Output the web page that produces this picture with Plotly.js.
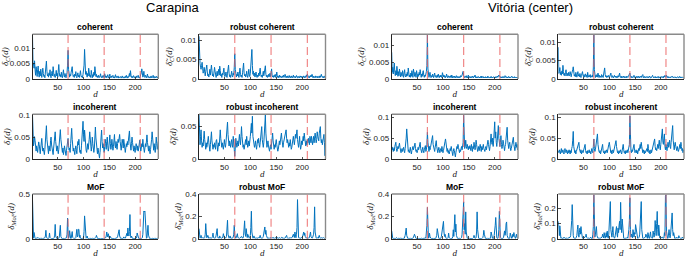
<!DOCTYPE html>
<html><head><meta charset="utf-8">
<script src="https://cdn.plot.ly/plotly-3.0.1.min.js"></script>
<style>html,body{margin:0;padding:0;background:#fff}#chart{width:685px;height:258px}</style>
</head><body><div id="chart"></div>
<script>
// d = 1..245 (x0 = 1, dx = 1)
const markerDays = [70, 140, 210];
const xTickVals = [50, 100, 150, 200];
const siteTitles = ['Carapina', 'Vitória (center)'];

const carapinaCoherent = [
.0140,.0045,.0052,.0035,.0059,.0030,.0012,.0040,.0022,.0008,
.0030,.0042,.0015,.0006,.0025,.0010,.0032,.0012,.0005,.0020,
.0035,.0018,.0008,.0012,.0004,.0022,.0040,.0058,.0025,.0010,
.0015,.0006,.0020,.0012,.0030,.0008,.0004,.0018,.0025,.0010,
.0040,.0022,.0008,.0015,.0005,.0012,.0028,.0010,.0018,.0006,
.0030,.0047,.0020,.0009,.0014,.0006,.0022,.0010,.0004,.0016,
.0030,.0012,.0006,.0018,.0009,.0004,.0014,.0020,.0045,.0093,
.0030,.0012,.0006,.0015,.0010,.0022,.0035,.0040,.0018,.0008,
.0012,.0005,.0016,.0010,.0024,.0008,.0004,.0013,.0020,.0007,
.0012,.0005,.0018,.0027,.0012,.0006,.0010,.0004,.0015,.0030,
.0045,.0096,.0040,.0015,.0025,.0012,.0006,.0018,.0010,.0035,
.0020,.0008,.0012,.0005,.0028,.0010,.0004,.0014,.0008,.0022,
.0012,.0040,.0025,.0008,.0015,.0006,.0010,.0004,.0012,.0007,
.0005,.0010,.0017,.0006,.0004,.0009,.0005,.0012,.0007,.0004,
.0017,.0008,.0005,.0010,.0004,.0008,.0014,.0006,.0003,.0009,
.0016,.0006,.0004,.0010,.0005,.0008,.0012,.0004,.0007,.0003,
.0009,.0014,.0005,.0008,.0004,.0006,.0010,.0003,.0007,.0005,
.0004,.0008,.0006,.0003,.0010,.0005,.0004,.0007,.0003,.0006,
.0009,.0004,.0012,.0006,.0003,.0008,.0005,.0010,.0018,.0008,
.0027,.0012,.0005,.0009,.0004,.0007,.0011,.0005,.0003,.0008,
.0006,.0004,.0010,.0005,.0007,.0012,.0004,.0006,.0003,.0008,
.0012,.0020,.0033,.0014,.0006,.0010,.0025,.0008,.0005,.0012,
.0007,.0004,.0010,.0016,.0005,.0008,.0004,.0007,.0003,.0006,
.0010,.0004,.0007,.0005,.0012,.0004,.0003,.0008,.0005,.0004,
.0009,.0005,.0003,.0007,.0004];

const carapinaRobustCoherent = [
.0110,.0045,.0040,.0030,.0025,.0035,.0043,.0028,.0015,.0020,
.0030,.0012,.0008,.0020,.0028,.0036,.0018,.0008,.0012,.0005,
.0015,.0025,.0010,.0020,.0036,.0022,.0008,.0012,.0006,.0018,
.0030,.0020,.0008,.0004,.0012,.0020,.0008,.0015,.0025,.0010,
.0033,.0022,.0008,.0012,.0004,.0015,.0010,.0018,.0028,.0012,
.0006,.0010,.0018,.0008,.0004,.0015,.0025,.0036,.0015,.0006,
.0010,.0004,.0012,.0020,.0008,.0005,.0015,.0010,.0030,.0065,
.0025,.0010,.0005,.0012,.0008,.0018,.0010,.0004,.0015,.0028,
.0012,.0006,.0010,.0004,.0016,.0025,.0041,.0015,.0008,.0012,
.0005,.0010,.0020,.0008,.0004,.0012,.0025,.0010,.0006,.0015,
.0030,.0045,.0076,.0035,.0012,.0020,.0008,.0015,.0005,.0012,
.0018,.0008,.0004,.0010,.0006,.0015,.0008,.0020,.0028,.0012,
.0006,.0010,.0004,.0012,.0020,.0008,.0015,.0025,.0034,.0012,
.0006,.0010,.0004,.0008,.0012,.0005,.0010,.0015,.0006,.0020,
.0026,.0010,.0005,.0008,.0004,.0010,.0006,.0012,.0004,.0008,
.0018,.0008,.0004,.0007,.0003,.0010,.0005,.0008,.0004,.0006,
.0003,.0008,.0005,.0010,.0004,.0006,.0012,.0005,.0003,.0007,
.0004,.0008,.0003,.0006,.0009,.0004,.0006,.0003,.0008,.0004,
.0006,.0003,.0010,.0005,.0004,.0007,.0003,.0006,.0009,.0004,
.0003,.0007,.0004,.0006,.0003,.0008,.0005,.0004,.0007,.0003,
.0006,.0004,.0008,.0005,.0003,.0007,.0004,.0010,.0006,.0013,
.0008,.0004,.0006,.0003,.0008,.0005,.0010,.0006,.0012,.0005,
.0003,.0007,.0004,.0006,.0003,.0008,.0005,.0004,.0007,.0003,
.0006,.0004,.0008,.0003,.0005,.0009,.0012,.0006,.0004,.0007,
.0003,.0006,.0004,.0008,.0003];

const carapinaIncoherent = [
.100,.045,.030,.038,.051,.042,.025,.018,.030,.022,
.015,.028,.039,.033,.020,.012,.025,.035,.047,.030,
.018,.025,.015,.010,.022,.040,.060,.076,.045,.028,
.020,.012,.030,.025,.018,.042,.050,.032,.020,.015,
.010,.025,.035,.048,.062,.040,.025,.018,.030,.020,
.012,.022,.035,.050,.067,.045,.030,.020,.015,.025,
.010,.018,.030,.022,.012,.008,.020,.032,.040,.047,
.030,.020,.025,.015,.035,.050,.070,.045,.028,.018,
.025,.015,.010,.022,.030,.020,.012,.028,.040,.032,
.045,.025,.015,.020,.012,.030,.045,.060,.086,.055,
.040,.066,.042,.028,.020,.015,.025,.035,.022,.030,
.045,.062,.040,.025,.018,.028,.050,.035,.022,.015,
.025,.040,.073,.048,.030,.020,.012,.025,.018,.008,
.002,.015,.030,.045,.066,.040,.025,.035,.020,.015,
.028,.045,.035,.022,.040,.050,.030,.018,.025,.040,
.055,.035,.022,.030,.045,.032,.020,.028,.040,.056,
.032,.025,.040,.030,.022,.035,.045,.038,.050,.056,
.040,.028,.020,.032,.045,.036,.025,.045,.030,.020,
.015,.025,.035,.028,.040,.032,.045,.055,.064,.040,
.028,.020,.035,.050,.038,.025,.018,.030,.022,.015,
.025,.035,.028,.020,.030,.018,.025,.035,.043,.028,
.018,.025,.035,.028,.045,.032,.022,.015,.025,.035,
.028,.040,.055,.038,.025,.018,.030,.020,.012,.022,
.030,.045,.062,.042,.028,.020,.035,.025,.015,.030,
.050,.035,.022,.030,.040];

const carapinaRobustIncoherent = [
.068,.030,.022,.035,.045,.028,.018,.025,.020,.032,
.043,.030,.020,.015,.025,.018,.022,.030,.035,.025,
.018,.012,.022,.030,.042,.028,.020,.015,.022,.018,
.025,.020,.015,.028,.030,.022,.012,.018,.025,.020,
.030,.045,.032,.022,.018,.025,.020,.015,.022,.030,
.022,.018,.025,.035,.045,.057,.038,.025,.020,.028,
.022,.018,.025,.030,.022,.018,.035,.028,.015,.004,
.020,.032,.025,.018,.022,.028,.020,.030,.038,.028,
.022,.035,.050,.035,.025,.018,.022,.015,.020,.025,
.030,.022,.035,.025,.018,.022,.028,.020,.025,.035,
.045,.055,.040,.066,.035,.025,.020,.018,.022,.028,
.020,.015,.022,.030,.025,.032,.022,.018,.025,.035,
.042,.050,.030,.022,.018,.025,.035,.045,.068,.040,
.025,.018,.022,.028,.020,.015,.012,.018,.022,.015,
.025,.035,.040,.028,.020,.015,.022,.018,.025,.030,
.022,.018,.012,.015,.020,.028,.022,.030,.035,.040,
.030,.022,.018,.025,.030,.028,.035,.040,.045,.032,
.025,.030,.022,.018,.025,.020,.030,.022,.015,.018,
.025,.030,.035,.028,.022,.030,.038,.032,.042,.045,
.030,.022,.018,.025,.035,.022,.015,.020,.028,.022,
.030,.035,.028,.040,.032,.025,.020,.028,.022,.030,
.025,.032,.028,.022,.035,.030,.025,.035,.030,.022,
.028,.035,.025,.030,.040,.032,.025,.030,.042,.035,
.030,.028,.040,.045,.050,.032,.025,.030,.022,.028,
.035,.038,.025,.005,.020];

const carapinaMoF = [
.440,.060,.005,.070,.010,.003,.002,.004,.001,.003,
.002,.012,.004,.001,.003,.002,.005,.001,.002,.003,
.001,.004,.002,.003,.010,.030,.094,.020,.003,.002,
.004,.001,.012,.064,.015,.003,.002,.001,.004,.002,
.003,.001,.010,.040,.160,.030,.004,.002,.001,.003,
.002,.004,.020,.150,.150,.025,.003,.001,.002,.004,
.002,.003,.001,.004,.002,.003,.010,.050,.230,.060,
.004,.020,.090,.010,.003,.002,.030,.080,.015,.003,
.002,.004,.001,.003,.010,.060,.105,.020,.030,.105,
.105,.015,.040,.005,.002,.003,.001,.004,.002,.010,
.080,.255,.120,.020,.004,.010,.030,.005,.002,.003,
.001,.004,.002,.003,.001,.002,.004,.001,.003,.002,
.004,.002,.010,.015,.037,.010,.002,.003,.001,.004,
.002,.003,.001,.002,.004,.001,.003,.002,.001,.003,
.002,.004,.010,.030,.075,.040,.020,.056,.030,.005,
.010,.025,.004,.002,.003,.001,.004,.002,.003,.001,
.002,.004,.001,.003,.010,.020,.040,.070,.100,.030,
.005,.002,.004,.001,.003,.002,.004,.020,.010,.003,
.005,.020,.040,.060,.030,.120,.050,.030,.080,.270,
.040,.010,.030,.004,.002,.003,.001,.004,.002,.003,
.001,.004,.020,.064,.030,.005,.002,.003,.001,.004,
.002,.003,.004,.010,.050,.150,.310,.300,.310,.200,
.030,.004,.010,.080,.150,.040,.003,.002,.004,.001,
.003,.002,.004,.001,.003,.002,.001,.004,.002,.003,
.001,.002,.004,.001,.002];

const carapinaRobustMoF = [
.090,.020,.005,.010,.030,.008,.004,.010,.003,.006,
.004,.010,.040,.135,.060,.008,.015,.030,.005,.003,
.008,.004,.006,.010,.003,.008,.020,.050,.010,.004,
.006,.003,.010,.030,.060,.090,.020,.005,.008,.004,
.025,.010,.004,.006,.003,.008,.015,.045,.010,.004,
.006,.003,.008,.020,.080,.165,.040,.006,.004,.010,
.025,.005,.003,.008,.004,.006,.015,.040,.120,.030,
.008,.004,.010,.020,.045,.010,.004,.006,.003,.008,
.004,.010,.020,.008,.004,.006,.030,.080,.160,.050,
.020,.090,.030,.010,.040,.020,.006,.004,.010,.030,
.100,.246,.060,.010,.004,.008,.025,.006,.003,.008,
.004,.006,.003,.008,.004,.010,.006,.015,.030,.008,
.004,.006,.003,.010,.020,.050,.080,.105,.040,.075,
.030,.008,.004,.006,.003,.008,.004,.010,.006,.003,
.008,.004,.006,.012,.004,.008,.003,.006,.010,.004,
.015,.006,.003,.008,.004,.010,.006,.003,.008,.012,
.004,.006,.010,.003,.008,.004,.006,.012,.020,.030,
.010,.004,.008,.003,.006,.004,.010,.006,.003,.008,
.015,.030,.040,.020,.010,.060,.030,.008,.040,.100,
.350,.060,.010,.004,.008,.003,.006,.004,.010,.005,
.020,.040,.060,.030,.050,.020,.008,.004,.010,.006,
.003,.008,.004,.010,.030,.060,.020,.006,.004,.008,
.020,.040,.100,.285,.060,.015,.006,.004,.010,.008,
.004,.020,.030,.010,.006,.004,.008,.003,.006,.004,
.010,.005,.003,.006,.004];

const vitoriaCoherent = [
.0080,.0020,.0035,.0015,.0030,.0048,.0020,.0010,.0025,.0012,
.0038,.0018,.0008,.0022,.0010,.0030,.0015,.0006,.0020,.0012,
.0008,.0025,.0012,.0005,.0018,.0028,.0010,.0006,.0015,.0008,
.0020,.0010,.0033,.0015,.0006,.0012,.0005,.0018,.0008,.0025,
.0012,.0005,.0030,.0015,.0008,.0020,.0010,.0005,.0025,.0012,
.0006,.0015,.0008,.0020,.0012,.0028,.0010,.0005,.0015,.0008,
.0020,.0025,.0010,.0005,.0012,.0008,.0015,.0022,.0040,.0134,
.0030,.0010,.0005,.0012,.0020,.0008,.0004,.0010,.0006,.0015,
.0008,.0004,.0012,.0018,.0007,.0010,.0004,.0008,.0012,.0005,
.0015,.0008,.0004,.0010,.0006,.0012,.0008,.0004,.0019,.0010,
.0006,.0012,.0005,.0009,.0004,.0008,.0015,.0006,.0004,.0010,
.0006,.0004,.0008,.0005,.0010,.0004,.0012,.0006,.0003,.0008,
.0005,.0009,.0004,.0007,.0003,.0010,.0006,.0004,.0008,.0005,
.0003,.0007,.0004,.0010,.0006,.0008,.0012,.0018,.0023,.0010,
.0006,.0004,.0008,.0005,.0010,.0004,.0007,.0003,.0012,.0006,
.0004,.0008,.0005,.0003,.0007,.0004,.0009,.0005,.0003,.0008,
.0006,.0012,.0004,.0007,.0003,.0006,.0004,.0008,.0005,.0003,
.0006,.0004,.0008,.0003,.0009,.0005,.0004,.0007,.0003,.0006,
.0004,.0007,.0003,.0006,.0004,.0008,.0003,.0007,.0005,.0004,
.0006,.0003,.0008,.0004,.0006,.0003,.0005,.0007,.0004,.0006,
.0003,.0007,.0004,.0006,.0009,.0005,.0008,.0012,.0010,.0006,
.0004,.0007,.0003,.0006,.0004,.0008,.0005,.0003,.0007,.0010,
.0006,.0004,.0007,.0003,.0006,.0004,.0008,.0005,.0003,.0006,
.0004,.0007,.0009,.0005,.0003,.0006,.0004,.0007,.0003,.0005,
.0004,.0006,.0003,.0005,.0004];

const vitoriaRobustCoherent = [
.0086,.0015,.0020,.0031,.0012,.0018,.0010,.0022,.0014,.0037,
.0020,.0010,.0015,.0008,.0018,.0025,.0012,.0008,.0015,.0010,
.0018,.0008,.0012,.0020,.0010,.0006,.0014,.0018,.0025,.0033,
.0015,.0008,.0012,.0006,.0018,.0010,.0005,.0012,.0020,.0008,
.0012,.0006,.0015,.0008,.0004,.0010,.0016,.0020,.0010,.0006,
.0012,.0005,.0009,.0014,.0006,.0010,.0004,.0018,.0008,.0005,
.0010,.0006,.0012,.0004,.0008,.0006,.0011,.0005,.0030,.0120,
.0025,.0008,.0004,.0010,.0006,.0012,.0005,.0016,.0008,.0004,
.0010,.0005,.0008,.0004,.0012,.0006,.0009,.0004,.0015,.0022,
.0030,.0012,.0006,.0009,.0004,.0008,.0005,.0010,.0006,.0004,
.0008,.0012,.0016,.0006,.0004,.0009,.0005,.0003,.0007,.0010,
.0005,.0008,.0004,.0007,.0003,.0006,.0009,.0005,.0012,.0016,
.0006,.0004,.0008,.0003,.0006,.0004,.0008,.0005,.0003,.0007,
.0004,.0006,.0003,.0008,.0005,.0004,.0007,.0010,.0012,.0016,
.0006,.0004,.0007,.0003,.0006,.0004,.0008,.0010,.0005,.0003,
.0006,.0004,.0007,.0003,.0005,.0008,.0004,.0006,.0003,.0007,
.0005,.0008,.0004,.0010,.0012,.0006,.0003,.0007,.0004,.0006,
.0003,.0005,.0007,.0004,.0006,.0003,.0005,.0008,.0004,.0003,
.0006,.0004,.0007,.0010,.0006,.0003,.0005,.0004,.0007,.0003,
.0005,.0003,.0006,.0004,.0007,.0003,.0005,.0004,.0006,.0003,
.0005,.0007,.0004,.0006,.0003,.0008,.0005,.0010,.0007,.0004,
.0010,.0006,.0004,.0007,.0003,.0005,.0004,.0006,.0003,.0005,
.0004,.0008,.0006,.0003,.0005,.0004,.0006,.0003,.0005,.0004,
.0003,.0006,.0004,.0005,.0003,.0007,.0004,.0003,.0006,.0004,
.0003,.0005,.0004,.0003,.0005];

const vitoriaIncoherent = [
.030,.022,.028,.018,.025,.020,.030,.035,.040,.025,
.018,.022,.030,.025,.035,.038,.028,.020,.015,.022,
.025,.018,.022,.028,.020,.015,.025,.035,.050,.072,
.040,.025,.018,.022,.015,.020,.028,.018,.012,.020,
.025,.030,.022,.028,.035,.038,.025,.018,.022,.015,
.020,.028,.022,.030,.035,.040,.025,.018,.015,.022,
.028,.020,.015,.022,.025,.032,.018,.022,.035,.064,
.040,.025,.018,.030,.022,.028,.035,.040,.048,.056,
.035,.025,.020,.018,.028,.038,.044,.030,.022,.015,
.020,.028,.022,.015,.020,.025,.018,.030,.022,.015,
.020,.025,.035,.042,.048,.030,.022,.018,.025,.015,
.020,.012,.018,.025,.020,.030,.022,.015,.008,.018,
.025,.020,.010,.005,.015,.022,.030,.025,.035,.028,
.020,.015,.022,.018,.025,.030,.022,.028,.040,.105,
.035,.025,.030,.045,.030,.025,.035,.028,.022,.030,
.025,.032,.028,.020,.035,.025,.018,.030,.025,.040,
.030,.022,.028,.045,.035,.025,.018,.022,.030,.020,
.028,.035,.025,.018,.030,.022,.028,.035,.025,.020,
.018,.025,.030,.022,.028,.040,.045,.035,.025,.020,
.030,.045,.060,.040,.035,.050,.030,.045,.070,.089,
.050,.065,.040,.030,.045,.060,.080,.050,.035,.030,
.040,.056,.035,.025,.030,.045,.038,.025,.020,.030,
.035,.050,.060,.076,.045,.030,.025,.035,.040,.028,
.020,.025,.035,.040,.045,.052,.035,.025,.020,.030,
.040,.028,.035,.022,.025];

const vitoriaRobustIncoherent = [
.020,.015,.022,.018,.012,.020,.025,.015,.018,.022,
.015,.012,.020,.025,.018,.015,.022,.018,.012,.020,
.015,.022,.018,.012,.020,.015,.025,.030,.045,.066,
.030,.018,.015,.020,.012,.018,.022,.025,.030,.038,
.040,.025,.018,.015,.022,.012,.018,.020,.015,.022,
.025,.030,.035,.020,.015,.018,.012,.020,.015,.018,
.022,.015,.018,.012,.020,.025,.018,.015,.030,.048,
.025,.018,.022,.030,.040,.050,.060,.035,.022,.018,
.015,.020,.012,.018,.025,.030,.035,.020,.015,.018,
.012,.020,.015,.018,.022,.015,.025,.030,.035,.040,
.025,.018,.015,.020,.012,.018,.022,.015,.020,.025,
.030,.035,.044,.030,.020,.015,.018,.012,.020,.015,
.018,.022,.015,.012,.020,.025,.035,.022,.015,.018,
.012,.020,.015,.018,.022,.015,.020,.025,.035,.103,
.030,.020,.015,.022,.018,.025,.030,.035,.020,.015,
.018,.022,.015,.020,.012,.018,.025,.020,.030,.035,
.025,.040,.030,.020,.015,.022,.018,.012,.020,.015,
.018,.022,.025,.018,.035,.025,.015,.020,.012,.018,
.022,.015,.020,.025,.030,.040,.045,.048,.030,.022,
.025,.020,.030,.035,.025,.040,.045,.030,.022,.035,
.045,.060,.072,.040,.035,.050,.060,.030,.022,.035,
.025,.020,.030,.040,.028,.035,.045,.030,.025,.040,
.050,.065,.080,.045,.030,.022,.035,.040,.030,.025,
.020,.030,.025,.018,.022,.030,.035,.025,.040,.030,
.020,.025,.015,.022,.018];

const vitoriaMoF = [
.070,.010,.003,.001,.004,.002,.003,.001,.002,.010,
.003,.001,.004,.002,.003,.001,.002,.004,.001,.003,
.002,.001,.004,.003,.001,.010,.030,.060,.095,.030,
.005,.002,.003,.001,.004,.002,.003,.001,.002,.004,
.001,.003,.010,.025,.040,.020,.003,.001,.002,.004,
.002,.003,.001,.004,.002,.001,.003,.002,.004,.001,
.003,.002,.001,.004,.002,.010,.003,.040,.120,.280,
.030,.004,.010,.050,.020,.003,.002,.001,.004,.002,
.003,.001,.004,.002,.003,.001,.010,.030,.090,.060,
.010,.003,.002,.004,.001,.003,.020,.050,.080,.130,
.155,.060,.020,.040,.010,.003,.002,.001,.004,.010,
.050,.010,.003,.001,.002,.004,.001,.003,.020,.080,
.020,.080,.215,.060,.130,.030,.010,.003,.002,.004,
.002,.001,.004,.002,.003,.010,.040,.160,.250,.330,
.080,.135,.040,.240,.060,.010,.003,.002,.004,.001,
.003,.002,.001,.004,.002,.003,.001,.004,.010,.030,
.003,.002,.004,.010,.060,.240,.080,.010,.003,.002,
.001,.004,.002,.003,.001,.004,.010,.030,.075,.040,
.010,.003,.002,.004,.001,.003,.002,.004,.001,.003,
.002,.004,.060,.030,.005,.002,.004,.001,.030,.060,
.120,.190,.060,.010,.003,.002,.020,.080,.245,.050,
.010,.003,.002,.004,.001,.003,.010,.040,.070,.030,
.060,.135,.150,.030,.005,.002,.004,.001,.003,.050,
.020,.003,.002,.010,.040,.020,.055,.030,.004,.002,
.020,.040,.010,.003,.002];

const vitoriaRobustMoF = [
.115,.040,.020,.085,.010,.003,.005,.002,.004,.001,
.003,.010,.005,.002,.004,.001,.003,.006,.002,.004,
.001,.003,.005,.010,.020,.050,.120,.225,.080,.020,
.005,.002,.004,.001,.003,.010,.020,.060,.090,.030,
.010,.040,.070,.030,.080,.045,.010,.003,.002,.004,
.001,.003,.010,.020,.030,.010,.003,.002,.004,.001,
.003,.002,.004,.010,.002,.003,.001,.030,.080,.290,
.060,.010,.030,.070,.080,.020,.005,.002,.004,.001,
.003,.002,.004,.001,.003,.010,.030,.020,.005,.040,
.010,.003,.020,.040,.010,.050,.010,.003,.030,.100,
.180,.245,.060,.020,.010,.040,.080,.020,.005,.003,
.010,.030,.060,.080,.030,.010,.070,.040,.090,.115,
.060,.240,.100,.040,.130,.060,.010,.003,.002,.004,
.001,.003,.002,.004,.010,.003,.020,.060,.120,.270,
.060,.010,.030,.020,.005,.060,.020,.010,.040,.030,
.093,.065,.020,.010,.003,.002,.004,.010,.030,.080,
.150,.245,.060,.010,.003,.002,.004,.001,.003,.010,
.030,.020,.005,.002,.040,.010,.003,.002,.030,.045,
.010,.003,.002,.004,.050,.030,.010,.040,.120,.060,
.020,.100,.180,.060,.020,.090,.030,.005,.002,.004,
.001,.003,.010,.003,.002,.004,.040,.020,.280,.290,
.050,.010,.003,.002,.040,.060,.020,.005,.030,.080,
.150,.170,.060,.020,.040,.005,.002,.004,.001,.003,
.010,.003,.002,.004,.020,.010,.003,.002,.004,.001,
.003,.010,.002,.004,.001];

// y-axis label texts (set in italic via font.style)
const lblC  = 'δ<sub>C</sub>(d)';
const lblCr = 'δ̃<sub>C</sub>(d)';
const lblI  = 'δ<sub>I</sub>(d)';
const lblIr = 'δ̃<sub>I</sub>(d)';
const lblM  = 'δ<sub>MoF</sub>(d)';
const lblMr = 'δ̃<sub>MoF</sub>(d)';

const tC = {vals:[0,0.005,0.01], text:['0','0.005','0.01']};
const tI = {vals:[0,0.05,0.1], text:['0','0.05','0.1']};
const tIr = {vals:[0,0.05], text:['0','0.05']};
const tM5 = {vals:[0,0.5], text:['0','0.5']};
const tM4 = {vals:[0,0.2,0.4], text:['0','0.2','0.4']};
const tM2 = {vals:[0,0.1,0.2], text:['0','0.1','0.2']};

const panels = [
 {r:0,c:0,title:'coherent',y:carapinaCoherent,range:[0,0.0145],t:tC,lbl:lblC},
 {r:0,c:1,title:'robust coherent',y:carapinaRobustCoherent,range:[0,0.0115],t:tC,lbl:lblCr},
 {r:0,c:2,title:'coherent',y:vitoriaCoherent,range:[0,0.0134],t:tC,lbl:lblC},
 {r:0,c:3,title:'robust coherent',y:vitoriaRobustCoherent,range:[0,0.0121],t:tC,lbl:lblCr},
 {r:1,c:0,title:'incoherent',y:carapinaIncoherent,range:[0,0.102],t:tI,lbl:lblI},
 {r:1,c:1,title:'robust incoherent',y:carapinaRobustIncoherent,range:[0,0.069],t:tIr,lbl:lblIr},
 {r:1,c:2,title:'incoherent',y:vitoriaIncoherent,range:[0,0.107],t:tI,lbl:lblI},
 {r:1,c:3,title:'robust incoherent',y:vitoriaRobustIncoherent,range:[0,0.107],t:tI,lbl:lblIr},
 {r:2,c:0,title:'MoF',y:carapinaMoF,range:[0,0.5],t:tM5,lbl:lblM},
 {r:2,c:1,title:'robust MoF',y:carapinaRobustMoF,range:[0,0.4],t:tM4,lbl:lblMr},
 {r:2,c:2,title:'MoF',y:vitoriaMoF,range:[0,0.4],t:tM4,lbl:lblM},
 {r:2,c:3,title:'robust MoF',y:vitoriaRobustMoF,range:[0,0.295],t:tM2,lbl:lblMr}
];

const W = 685, H = 258;
const colX = [[32.5,158.3],[199,325.5],[391.7,518],[558.3,684]];
const rowY = [[34.3,79],[114.3,159],[194,238.7]];

const sans = 'Liberation Sans, Arial, Helvetica, sans-serif';
const serif = 'Liberation Serif, Times New Roman, serif';
const axisCol = '#262626';

const traces = [];
const layout = {
  width: W, height: H,
  margin: {l:0,r:0,t:0,b:0},
  paper_bgcolor: '#fff', plot_bgcolor: '#fff',
  showlegend: false,
  shapes: [], annotations: []
};

panels.forEach((p, i) => {
  const n = i + 1;
  const xa = 'xaxis' + n, ya = 'yaxis' + n;
  const xr = 'x' + n, yr = 'y' + n;
  const [x0, x1] = colX[p.c];
  const [y0, y1] = rowY[p.r];
  traces.push({
    type: 'scatter', mode: 'lines', x0: 1, dx: 1, y: p.y,
    xaxis: xr, yaxis: yr,
    line: {color: '#0072BD', width: 1}, hoverinfo: 'skip'
  });
  layout[xa] = {
    domain: [x0 / W, x1 / W], anchor: yr, range: [1, 245],
    tickmode: 'array', tickvals: xTickVals,
    ticks: 'inside', ticklen: 2.5, tickcolor: axisCol, tickwidth: 0.8,
    showline: true, linecolor: axisCol, linewidth: 1,
    showgrid: false, zeroline: false,
    tickfont: {family: sans, size: 8, color: '#1a1a1a'},
    title: {text: 'd', standoff: 0, font: {family: serif, size: 9, color: '#1a1a1a', style: 'italic'}}
  };
  layout[ya] = {
    domain: [1 - y1 / H, 1 - y0 / H], anchor: xr, range: p.range,
    tickmode: 'array', tickvals: p.t.vals, ticktext: p.t.text,
    ticks: 'inside', ticklen: 2.5, tickcolor: axisCol, tickwidth: 0.8,
    showline: true, linecolor: axisCol, linewidth: 1,
    showgrid: false, zeroline: false,
    tickfont: {family: sans, size: 8, color: '#1a1a1a'},
    title: {text: p.lbl, standoff: 2, font: {family: serif, size: 9, color: '#1a1a1a', style: 'italic'}}
  };
  // top / right box edges
  layout.shapes.push({type:'line', xref: xr + ' domain', yref: yr + ' domain',
    x0: 0, x1: 1, y0: 1, y1: 1, line: {color: '#8a8a8a', width: 1.4}});
  layout.shapes.push({type:'line', xref: xr + ' domain', yref: yr + ' domain',
    x0: 1, x1: 1, y0: 0, y1: 1, line: {color: '#8a8a8a', width: 1.4}});
  // red dashed marker lines
  markerDays.forEach(d => {
    layout.shapes.push({type:'line', xref: xr, yref: yr + ' domain',
      x0: d, x1: d, y0: 0, y1: 1, layer: 'above',
      line: {color: 'rgba(235,95,95,0.75)', width: 1.2, dash: '8px,4px'}});
  });
  // panel title
  layout.annotations.push({text: p.title, xref: xr + ' domain', yref: yr + ' domain',
    x: 0.5, y: 1, xanchor: 'center', yanchor: 'bottom', yshift: 0, showarrow: false,
    font: {family: sans, size: 8.5, color: '#000', weight: 'bold'}});
});

// site titles
[[siteTitles[0], 173], [siteTitles[1], 530]].forEach(([t, cx]) => {
  layout.annotations.push({text: t, xref: 'paper', yref: 'paper',
    x: cx / W, y: 1 - 7.5 / H, xanchor: 'center', yanchor: 'middle', showarrow: false,
    font: {family: sans, size: 13, color: '#000'}});
});

Plotly.newPlot('chart', traces, layout, {staticPlot: true, displayModeBar: false});
</script></body></html>
